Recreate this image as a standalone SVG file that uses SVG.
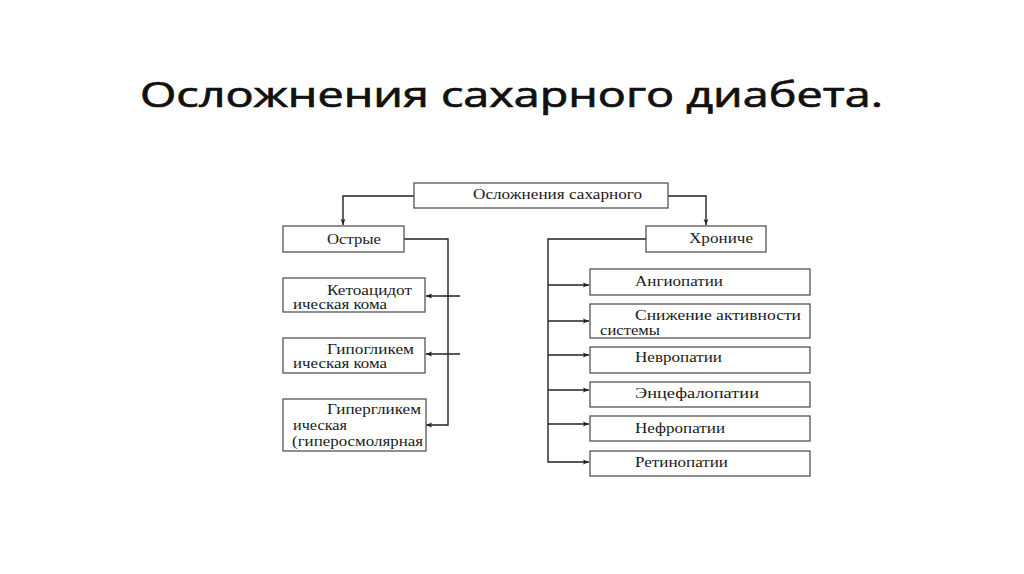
<svg xmlns="http://www.w3.org/2000/svg" width="1024" height="574" viewBox="0 0 1024 574">
<style>
.box{fill:#fff;stroke:#555;stroke-width:1.3}
.t{font-family:"Liberation Serif","Times New Roman",serif;font-size:15px;fill:#1a1a1a}
.title{font-family:"Open Sans","DejaVu Sans",sans-serif;font-size:34px;fill:#111;stroke:#111;stroke-width:0.7}
.c{fill:none;stroke:#222;stroke-width:1.4}
</style>
<defs>
<marker id="ar" viewBox="0 0 10 10" refX="10" refY="5" markerWidth="9" markerHeight="6" markerUnits="userSpaceOnUse" orient="auto">
<path d="M0,1 L10,5 L0,9 L2,5 Z" fill="#222"/>
</marker>
</defs>
<rect width="1024" height="574" fill="#fff"/>
<text class="title" x="140" y="107" textLength="743" lengthAdjust="spacingAndGlyphs">Осложнения сахарного диабета.</text>
<g id="connectors">
<path class="c" d="M414,196 H343 V225" marker-end="url(#ar)"/>
<path class="c" d="M668,196 H706 V225" marker-end="url(#ar)"/>
<path class="c" d="M404,239 H448 V425 H426" marker-end="url(#ar)"/>
<path class="c" d="M460,296 H426" marker-end="url(#ar)"/>
<path class="c" d="M460,354 H426" marker-end="url(#ar)"/>
<path class="c" d="M646,239 H548 V462 H589" marker-end="url(#ar)"/>
<path class="c" d="M548,285 H589" marker-end="url(#ar)"/>
<path class="c" d="M548,321 H589" marker-end="url(#ar)"/>
<path class="c" d="M548,355 H589" marker-end="url(#ar)"/>
<path class="c" d="M548,390 H589" marker-end="url(#ar)"/>
<path class="c" d="M548,424 H589" marker-end="url(#ar)"/>
</g>
<g id="root"><rect class="box" x="414" y="183" width="254" height="25"/><text class="t" x="473" y="199" textLength="169" lengthAdjust="spacingAndGlyphs">Осложнения сахарного</text></g>
<g id="acute"><rect class="box" x="283" y="226" width="121" height="26"/><text class="t" x="327" y="244" textLength="54" lengthAdjust="spacingAndGlyphs">Острые</text></g>
<g id="chronic"><rect class="box" x="646" y="226" width="120" height="26"/><text class="t" x="689" y="243" textLength="64" lengthAdjust="spacingAndGlyphs">Хрониче</text></g>
<g id="keto"><rect class="box" x="283" y="278" width="142" height="34"/><text class="t" x="327" y="295" textLength="85" lengthAdjust="spacingAndGlyphs">Кетоацидот</text><text class="t" x="293" y="309" textLength="94" lengthAdjust="spacingAndGlyphs">ическая кома</text></g>
<g id="hypo"><rect class="box" x="283" y="338" width="142" height="35"/><text class="t" x="327" y="354" textLength="87" lengthAdjust="spacingAndGlyphs">Гипогликем</text><text class="t" x="293" y="368" textLength="94" lengthAdjust="spacingAndGlyphs">ическая кома</text></g>
<g id="hyper"><rect class="box" x="283" y="399" width="143" height="52"/><text class="t" x="327" y="414" textLength="94" lengthAdjust="spacingAndGlyphs">Гипергликем</text><text class="t" x="293" y="430" textLength="54" lengthAdjust="spacingAndGlyphs">ическая</text><text class="t" x="292" y="446" textLength="131" lengthAdjust="spacingAndGlyphs">(гиперосмолярная</text></g>
<g id="angio"><rect class="box" x="590" y="269" width="220" height="26"/><text class="t" x="635" y="286" textLength="88" lengthAdjust="spacingAndGlyphs">Ангиопатии</text></g>
<g id="snizh"><rect class="box" x="590" y="304" width="220" height="34"/><text class="t" x="635" y="320" textLength="166" lengthAdjust="spacingAndGlyphs">Снижение  активности</text><text class="t" x="600" y="335" textLength="60" lengthAdjust="spacingAndGlyphs">системы</text></g>
<g id="nevro"><rect class="box" x="590" y="347" width="220" height="26"/><text class="t" x="635" y="362" textLength="87" lengthAdjust="spacingAndGlyphs">Невропатии</text></g>
<g id="encef"><rect class="box" x="590" y="382" width="220" height="25"/><text class="t" x="635" y="398" textLength="124" lengthAdjust="spacingAndGlyphs">Энцефалопатии</text></g>
<g id="nefro"><rect class="box" x="590" y="416" width="220" height="25"/><text class="t" x="635" y="433" textLength="90" lengthAdjust="spacingAndGlyphs">Нефропатии</text></g>
<g id="retino"><rect class="box" x="590" y="451" width="220" height="25"/><text class="t" x="635" y="467" textLength="93" lengthAdjust="spacingAndGlyphs">Ретинопатии</text></g>
</svg>
